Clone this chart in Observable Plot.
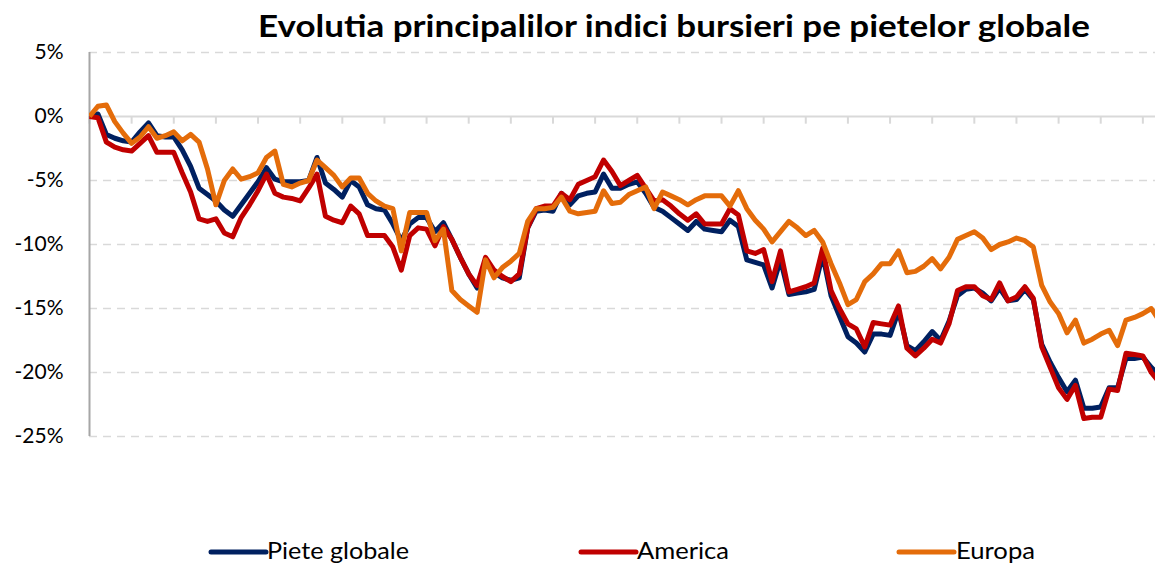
<!DOCTYPE html>
<html>
<head>
<meta charset="utf-8">
<script src="https://cdn.jsdelivr.net/npm/d3@7"></script>
<script src="https://cdn.jsdelivr.net/npm/@observablehq/plot@0.6"></script>
<style>
  html, body { margin: 0; padding: 0; background: #fff; }
  body { width: 1155px; height: 564px; overflow: hidden; position: relative; font-family: Lato, "Noto Sans", sans-serif; }
  #title { position: absolute; left: 0; top: 0; z-index: 2; }
  #chart, #legend { display: block; }
</style>
</head>
<body>
<div id="title"></div>
<div id="chart"></div>
<div id="legend"></div>
<script>
// ---- data (percent change since start, one value per trading day) ----
const titleText = "Evolutia principalilor indici bursieri pe pietelor globale";
const seriesNames = ["Piete globale", "America", "Europa"];
const seriesColors = ["#002060", "#C00000", "#E46C0A"];
const yTicks = [5, 0, -5, -10, -15, -20, -25];
const xTickDays = [0,5,10,15,20,25,30,35,40,45,50,55,60,65,70,75,80,85,90,95,100,105,110,115,120,125];

const pieteGlobale = [
  0,0.2,-1.4,-1.7,-1.9,-2.0,-1.2,-0.5,-1.5,-1.6,
  -1.6,-2.6,-3.9,-5.6,-6.1,-6.6,-7.3,-7.8,-6.9,-6.0,
  -5.1,-4.0,-4.9,-5.1,-5.1,-5.1,-5.0,-3.2,-5.2,-5.7,
  -6.3,-5.0,-5.5,-6.9,-7.2,-7.3,-8.4,-9.7,-8.4,-7.9,
  -7.9,-9.0,-8.3,-9.6,-11.0,-12.3,-13.4,-11.2,-12.2,-12.6,
  -12.8,-12.6,-8.7,-7.4,-7.3,-7.4,-6.0,-6.9,-6.2,-6.0,
  -5.9,-4.5,-5.6,-5.6,-5.3,-5.1,-6.0,-7.1,-7.4,-7.9,
  -8.4,-8.9,-8.2,-8.8,-8.9,-9.0,-8.1,-8.6,-11.2,-11.4,
  -11.6,-13.4,-11.2,-13.9,-13.8,-13.7,-13.5,-10.8,-14.0,-15.6,
  -17.2,-17.7,-18.4,-17.0,-17.0,-17.1,-15.2,-17.9,-18.3,-17.6,
  -16.8,-17.5,-16.0,-14.0,-13.5,-13.4,-13.8,-14.4,-13.4,-14.4,
  -14.3,-13.5,-14.3,-17.8,-19.2,-20.4,-21.5,-20.6,-22.8,-22.8,
  -22.7,-21.2,-21.2,-18.9,-18.9,-18.8,-19.6,-20.2
];
const america = [
  0,-0.1,-2.0,-2.4,-2.6,-2.7,-2.1,-1.5,-2.8,-2.8,
  -2.8,-4.4,-5.9,-8.0,-8.2,-8.0,-9.1,-9.4,-7.9,-6.9,
  -5.8,-4.5,-6.0,-6.3,-6.4,-6.6,-5.6,-4.5,-7.8,-8.1,
  -8.3,-7.0,-7.6,-9.3,-9.3,-9.3,-10.2,-12.0,-9.3,-8.7,
  -8.8,-10.1,-8.6,-9.6,-11.0,-12.3,-13.2,-11.0,-12.0,-12.5,
  -12.9,-12.3,-8.7,-7.2,-7.0,-7.0,-6.0,-6.5,-5.3,-5.0,
  -4.7,-3.4,-4.3,-5.4,-5.0,-4.6,-5.6,-6.6,-6.5,-7.0,
  -7.6,-8.1,-7.6,-8.4,-8.4,-8.4,-7.2,-7.7,-10.5,-10.7,
  -10.4,-12.9,-10.5,-13.7,-13.5,-13.3,-13.0,-10.3,-13.6,-15.0,
  -16.2,-16.6,-18.0,-16.1,-16.2,-16.3,-14.8,-18.1,-18.7,-18.1,
  -17.4,-17.7,-16.2,-13.6,-13.3,-13.3,-14.0,-14.3,-13.0,-14.4,
  -14.1,-13.3,-14.2,-18.0,-19.6,-21.2,-22.1,-21.0,-23.6,-23.5,
  -23.5,-21.3,-21.4,-18.5,-18.6,-18.7,-20.0,-20.8
];
const europa = [
  0,0.8,0.9,-0.4,-1.3,-2.1,-1.6,-0.8,-1.7,-1.5,
  -1.2,-1.9,-1.4,-2.0,-4.1,-6.9,-5.0,-4.1,-4.9,-4.7,
  -4.4,-3.2,-2.7,-5.3,-5.5,-5.2,-5.0,-3.4,-4.0,-4.6,
  -5.5,-4.8,-4.8,-6.0,-6.6,-7.0,-7.2,-10.5,-7.5,-7.5,
  -7.5,-9.7,-8.8,-13.6,-14.3,-14.8,-15.3,-11.2,-12.6,-11.8,
  -11.3,-10.7,-8.2,-7.2,-7.2,-7.1,-6.3,-7.4,-7.6,-7.5,
  -7.4,-5.8,-6.8,-6.7,-6.1,-5.8,-5.5,-7.2,-5.9,-6.2,
  -6.5,-6.9,-6.5,-6.2,-6.2,-6.2,-7.0,-5.8,-7.2,-8.1,
  -8.8,-9.8,-9.0,-8.2,-8.7,-9.3,-8.9,-9.8,-11.5,-13.0,
  -14.7,-14.3,-12.9,-12.3,-11.5,-11.5,-10.5,-12.2,-12.1,-11.7,
  -11.1,-11.9,-11.0,-9.6,-9.3,-9.0,-9.5,-10.4,-10.0,-9.8,
  -9.5,-9.7,-10.2,-13.2,-14.5,-15.4,-16.9,-15.9,-17.7,-17.4,
  -17.0,-16.7,-17.9,-15.9,-15.7,-15.4,-15.0,-16.0
];

// ---- build long table ----
const seriesValues = [pieteGlobale, america, europa];
const rows = [];
seriesValues.forEach((vals, s) => {
  vals.forEach((v, i) => rows.push({day: i, value: v, series: seriesNames[s]}));
});

const W = 1155;
const NS = "http://www.w3.org/2000/svg";

// ---- title (overlaid above the plot area) ----
{
  const svg = document.createElementNS(NS, "svg");
  svg.setAttribute("width", W); svg.setAttribute("height", 48);
  svg.style.display = "block";
  const t = document.createElementNS(NS, "text");
  t.setAttribute("x", 258); t.setAttribute("y", 37);
  t.setAttribute("font-family", "Lato, 'Noto Sans', sans-serif");
  t.setAttribute("font-weight", "bold");
  t.setAttribute("font-size", 31);
  t.setAttribute("fill", "#000");
  t.setAttribute("textLength", 832);
  t.setAttribute("lengthAdjust", "spacingAndGlyphs");
  t.textContent = titleText;
  svg.appendChild(t);
  document.getElementById("title").appendChild(svg);
}

// ---- chart ----
const chart = Plot.plot({
  width: W,
  height: 514,
  marginTop: 52,
  marginBottom: 78,
  marginLeft: 89,
  marginRight: 0,
  style: {fontFamily: "Lato, 'Noto Sans', sans-serif", background: "transparent", color: "#000"},
  x: {domain: [0, 126.5], axis: null},
  y: {domain: [-25, 5], axis: null},
  color: {domain: seriesNames, range: seriesColors},
  marks: [
    Plot.ruleY(yTicks.filter(d => d !== 0), {stroke: "#d9d9d9", strokeWidth: 1.5, strokeDasharray: "8,6"}),
    Plot.ruleY([0], {stroke: "#d9d9d9", strokeWidth: 2}),
    Plot.ruleX(xTickDays, {x: d => d, y1: 0, y2: -0.6, stroke: "#d9d9d9", strokeWidth: 2}),
    Plot.ruleX([0], {stroke: "#a6a6a6", strokeWidth: 2}),
    Plot.axisY(yTicks, {
      tickSize: 0, tickPadding: 26, fontSize: 21, fill: "#000", label: null,
      tickFormat: d => `${d}%`
    }),
    Plot.lineY(rows, {
      x: "day", y: "value", z: "series", stroke: "series",
      strokeWidth: 5, strokeLinejoin: "round", strokeLinecap: "butt", clip: true
    })
  ]
});
document.getElementById("chart").appendChild(chart);

// ---- legend ----
{
  const svg = document.createElementNS(NS, "svg");
  svg.setAttribute("width", W); svg.setAttribute("height", 50);
  svg.style.display = "block";
  const items = [
    {x: 211, tx: 267, tl: 142},
    {x: 581, tx: 637, tl: 92},
    {x: 899, tx: 956, tl: 79}
  ];
  items.forEach((it, k) => {
    const l = document.createElementNS(NS, "line");
    l.setAttribute("x1", it.x); l.setAttribute("x2", it.x + 55);
    l.setAttribute("y1", 38); l.setAttribute("y2", 38);
    l.setAttribute("stroke", seriesColors[k]); l.setAttribute("stroke-width", 5);
    l.setAttribute("stroke-linecap", "round");
    svg.appendChild(l);
    const t = document.createElementNS(NS, "text");
    t.setAttribute("x", it.tx); t.setAttribute("y", 45);
    t.setAttribute("font-family", "Lato, 'Noto Sans', sans-serif");
    t.setAttribute("font-size", 23);
    t.setAttribute("fill", "#000");
    t.setAttribute("textLength", it.tl);
    t.setAttribute("lengthAdjust", "spacingAndGlyphs");
    t.textContent = seriesNames[k];
    svg.appendChild(t);
  });
  document.getElementById("legend").appendChild(svg);
}
</script>
</body>
</html>
